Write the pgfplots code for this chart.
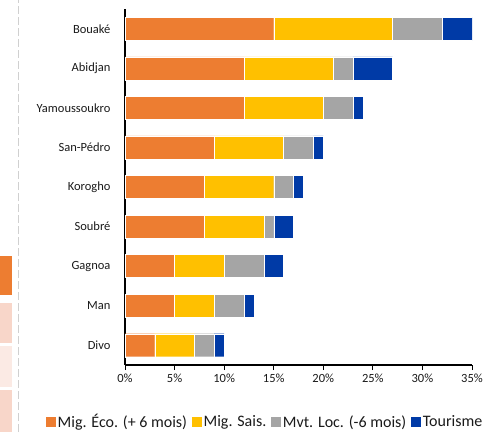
\documentclass[border=0pt]{standalone}
\usepackage{pgfplots}
\pgfplotsset{compat=1.18}
\usepackage{fontspec}
\setmainfont{Carlito}
\definecolor{cOr}{HTML}{ED7D31}
\definecolor{cYe}{HTML}{FFC000}
\definecolor{cGr}{HTML}{A5A5A5}
\definecolor{cBl}{HTML}{003AA6}
\definecolor{cTx}{HTML}{1A1A1A}
\definecolor{cPk}{HTML}{F8D6C9}
\definecolor{cPl}{HTML}{FBEAE4}
\definecolor{cDs}{HTML}{D0D0D0}
\begin{document}
\begin{tikzpicture}
\fill[cOr] (0pt,137pt) rectangle (12pt,176pt);
\fill[cPk] (0pt,89pt) rectangle (12pt,129pt);
\fill[cPl] (0pt,45pt) rectangle (12pt,86pt);
\fill[cPk] (0pt,0pt) rectangle (12pt,42pt);
\draw[cDs, line width=1.6pt, dash pattern=on 8pt off 3pt] (18.5pt,0pt) -- (18.5pt,432pt);
\begin{axis}[
  at={(125pt,67pt)}, anchor=south west,
  scale only axis, width=347pt, height=356pt,
  xbar stacked, bar width=23pt,
  xmin=0, xmax=35, ymin=-0.5, ymax=8.5,
  xtick={0,5,...,35},
  xticklabel={\pgfmathprintnumber{\tick}\%},
  ytick={0,...,8},
  yticklabels={Divo,Man,Gagnoa,Soubré,Korogho,San-Pédro,Yamoussoukro,Abidjan,Bouaké},
  axis x line*=bottom, axis y line*=left,
  x axis line style={black, line width=1.2pt},
  y axis line style={black, line width=1.8pt},
  tick align=outside, major tick length=5pt,
  xtick style={black, line width=1pt},
  ytick style={draw=none},
  /pgf/number format/assume math mode=true,
  tick label style={font=\fontsize{12.5}{15}\selectfont, text=cTx},
  y tick label style={xshift=-6pt},
  legend image code/.code={\fill[#1, draw=none] (0pt,-4.8pt) rectangle (9.5pt,4.8pt);},
  legend columns=4,
  legend style={at={(-0.2277,-0.160)}, anchor=west, draw=none, fill=none,
    inner sep=0pt, column sep=0pt,
    font=\fontsize{16}{19}\selectfont, text=cTx,
    nodes={inner sep=2pt, anchor=west},
    /tikz/every even column/.append style={column sep=3pt}},
  every axis plot/.append style={draw=white, line width=0.4pt},
]
\addplot[fill=cOr] coordinates {(3,0) (5,1) (5,2) (8,3) (8,4) (9,5) (12,6) (12,7) (15,8)};
\addplot[fill=cYe] coordinates {(4,0) (4,1) (5,2) (6,3) (7,4) (7,5) (8,6) (9,7) (12,8)};
\addplot[fill=cGr] coordinates {(2,0) (3,1) (4,2) (1,3) (2,4) (3,5) (3,6) (2,7) (5,8)};
\addplot[fill=cBl] coordinates {(1,0) (1,1) (2,2) (2,3) (1,4) (1,5) (1,6) (4,7) (3,8)};
\legend{Mig. Éco. (+ 6 mois), Mig. Sais., Mvt. Loc. (-6 mois), Tourisme}
\end{axis}
\pgfresetboundingbox
\useasboundingbox (0pt,0pt) rectangle (484pt,432pt);
\end{tikzpicture}
\end{document}
